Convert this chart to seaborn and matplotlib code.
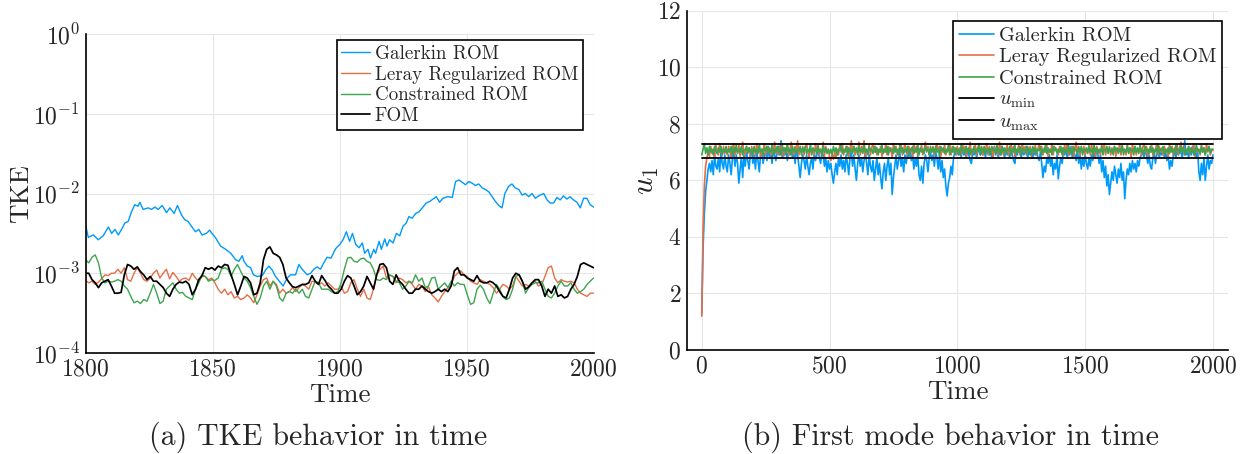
import numpy as np
import matplotlib
matplotlib.use("Agg")
import matplotlib.pyplot as plt
from matplotlib.ticker import NullLocator, FixedLocator
import seaborn as sns

# ---------------- data: panel (a) TKE, values stored as log10(TKE) ----------------
galerkin_tke_time = [
    1800.0, 1801.1, 1803.1, 1805.0, 1807.0, 1809.0, 1810.3, 1811.6, 1812.9, 1814.2,
    1815.5, 1816.8, 1818.1, 1819.4, 1820.7, 1821.4, 1822.7, 1824.7, 1826.0, 1827.3,
    1828.6, 1830.2, 1831.9, 1833.2, 1834.9, 1836.2, 1837.8, 1839.1, 1840.4, 1841.7,
    1843.3, 1844.6, 1845.9, 1847.6, 1848.9,
    1849.3, 1851.3, 1853.2, 1855.2, 1857.2, 1859.1, 1860.4, 1861.7, 1862.4, 1863.7,
    1865.0, 1866.1, 1867.6, 1869.6, 1870.9, 1872.2, 1873.5, 1874.8, 1876.8, 1877.8,
    1879.4, 1880.7, 1882.7, 1884.0, 1885.3, 1887.3, 1888.6, 1889.9, 1891.2, 1892.5,
    1893.8, 1895.1, 1896.7, 1898.0,
    1898.8, 1900.1, 1901.4, 1902.7, 1904.0, 1905.1, 1906.4, 1907.7, 1909.0, 1909.9,
    1911.2, 1912.2, 1913.5, 1914.2, 1915.6, 1916.5, 1917.8, 1918.7, 1919.7, 1921.1,
    1922.4, 1923.7, 1925.0, 1926.3, 1927.3, 1928.6, 1930.0, 1931.3, 1932.6, 1934.1,
    1935.5, 1936.8, 1938.1, 1939.4, 1940.7, 1942.6, 1944.4, 1945.7, 1947.0,
    1948.3, 1949.6, 1950.9, 1952.2, 1953.5, 1954.8, 1956.2, 1957.5, 1958.8, 1960.1,
    1961.4, 1962.7, 1964.0, 1965.1, 1966.6, 1967.9, 1969.2, 1970.6, 1971.9, 1973.2,
    1974.5, 1975.8, 1977.1, 1978.4, 1980.4, 1981.7, 1983.0, 1984.3, 1985.6, 1986.9,
    1988.2, 1989.5, 1990.8, 1992.1, 1993.5, 1994.8, 1996.1, 1997.4, 1998.7, 2000.0,
]
galerkin_log10_tke = [
    -2.39, -2.55, -2.52, -2.58, -2.53, -2.42, -2.50, -2.45, -2.52, -2.45,
    -2.37, -2.35, -2.23, -2.14, -2.16, -2.11, -2.20, -2.18, -2.20, -2.17,
    -2.20, -2.15, -2.24, -2.18, -2.25, -2.15, -2.27, -2.33, -2.35, -2.41,
    -2.48, -2.45, -2.52, -2.50, -2.46,
    -2.48, -2.56, -2.66, -2.70, -2.75, -2.83, -2.85, -2.78, -2.85, -2.91,
    -2.93, -3.02, -3.04, -3.03, -2.96, -2.91, -2.96, -3.04, -3.12, -3.16,
    -3.06, -3.02, -3.02, -2.89, -2.95, -3.02, -3.00, -2.95, -2.92, -2.95,
    -2.87, -2.80, -2.81, -2.72,
    -2.68, -2.64, -2.58, -2.48, -2.60, -2.50, -2.64, -2.68, -2.62, -2.75,
    -2.70, -2.81, -2.70, -2.75, -2.60, -2.70, -2.57, -2.66, -2.58, -2.62,
    -2.50, -2.53, -2.41, -2.37, -2.29, -2.31, -2.25, -2.23, -2.18, -2.12,
    -2.10, -2.07, -2.04, -2.11, -2.06, -2.04, -2.05, -1.85, -1.83,
    -1.86, -1.89, -1.85, -1.87, -1.90, -1.88, -1.93, -1.95, -1.98, -2.04,
    -2.10, -2.15, -2.18, -2.00, -1.91, -1.88, -1.93, -1.95, -2.02, -2.00,
    -2.04, -2.00, -2.06, -2.03, -2.00, -2.08, -2.12, -2.12, -2.05, -2.08,
    -2.03, -2.07, -2.04, -2.08, -2.11, -2.18, -2.06, -2.06, -2.14, -2.17,
]
# the other three series are sampled on a common uniform time grid 1800..2000 (158 samples)
tke_time_start, tke_time_end, tke_samples = 1800, 2000, 158
leray_log10_tke = [
    -3.09, -3.12, -3.10, -3.14, -3.11, -3.07, -3.02, -3.03, -3.00, -3.00,
    -2.95, -3.00, -2.93, -3.08, -3.10, -3.00, -2.93, -3.00, -3.08, -3.10,
    -3.06, -3.00, -2.96, -3.06, -3.00, -2.95, -3.07, -2.99, -3.04, -3.10,
    -3.07, -3.06, -3.09, -3.00, -3.06, -3.10, -3.04, -3.04, -3.08,
    -3.06, -3.12, -3.20, -3.25, -3.20, -3.27, -3.23, -3.31, -3.29, -3.33,
    -3.31, -3.27, -3.31, -3.37, -3.27, -3.16, -3.08, -3.06, -3.16, -3.10,
    -3.14, -3.25, -3.20, -3.25, -3.23, -3.18, -3.23, -3.18, -3.14, -3.16,
    -3.20, -3.10, -3.11, -3.14, -3.12, -3.16, -3.12, -3.16, -3.20,
    -3.20, -3.16, -3.25, -3.23, -3.12, -3.08, -3.20, -3.29, -3.20, -3.31,
    -3.33, -3.20, -3.02, -2.95, -2.91, -3.06, -3.02, -3.04, -3.12, -3.06,
    -3.08, -3.12, -3.10, -3.14, -3.20, -3.14, -3.16, -3.23, -3.17, -3.27,
    -3.31, -3.36, -3.29, -3.23, -3.18, -3.14, -3.04, -3.00, -2.97,
    -3.02, -3.04, -3.10, -3.12, -3.14, -3.08, -3.10, -3.12, -3.14, -3.18,
    -3.25, -3.20, -3.14, -3.16, -3.20, -3.16, -3.04, -3.10, -3.16, -3.14,
    -3.16, -3.12, -3.10, -3.16, -3.14, -3.04, -2.93, -2.91, -3.06, -3.12,
    -3.08, -3.10, -3.11, -3.10, -3.12, -3.20, -3.25, -3.27, -3.29, -3.25, -3.25,
]
constrained_log10_tke = [
    -2.83, -2.87, -2.80, -2.77, -2.87, -3.06, -3.12, -3.10, -3.11, -3.10,
    -3.08, -3.10, -3.16, -3.20, -3.29, -3.37, -3.35, -3.38, -3.33, -3.35,
    -3.25, -3.14, -3.25, -3.38, -3.35, -3.20, -3.16, -3.12, -3.20, -3.25,
    -3.24, -3.29, -3.31, -3.33, -3.20, -3.12, -3.02, -3.04, -3.10,
    -3.08, -3.09, -3.06, -2.95, -2.93, -2.95, -3.04, -2.95, -2.89, -2.98,
    -3.06, -3.10, -3.18, -3.29, -3.39, -3.31, -3.16, -3.10, -3.20, -3.10,
    -3.16, -3.31, -3.35, -3.25, -3.23, -3.25, -3.20, -3.25, -3.20, -3.29,
    -3.31, -3.20, -3.10, -3.12, -3.20, -3.20, -3.20, -3.23, -3.25,
    -3.23, -3.12, -2.95, -2.81, -2.80, -2.85, -2.86, -2.82, -2.81, -2.85,
    -2.87, -2.95, -3.08, -3.09, -3.06, -3.08, -3.02, -3.04, -3.10, -3.12,
    -3.20, -3.16, -3.10, -3.12, -3.02, -3.10, -3.06, -3.18, -3.16, -3.06,
    -3.05, -3.20, -3.16, -3.12, -3.18, -3.10, -3.16, -3.12, -3.14,
    -3.14, -3.27, -3.39, -3.37, -3.20, -3.15, -3.20, -3.31, -3.38, -3.25,
    -3.14, -3.20, -3.29, -3.33, -3.31, -3.20, -3.04, -3.02, -3.10, -3.25,
    -3.18, -3.14, -3.12, -3.12, -3.10, -3.20, -3.29, -3.31, -3.25, -3.16,
    -3.10, -3.16, -3.16, -3.12, -3.20, -3.25, -3.23, -3.20, -3.14, -3.10, -3.06,
]
fom_log10_tke = [
    -3.00, -3.00, -3.08, -3.12, -3.18, -3.12, -3.10, -3.08, -3.16, -3.25,
    -3.25, -3.24, -3.02, -2.89, -2.91, -2.95, -2.92, -2.98, -3.02, -3.08,
    -3.04, -3.10, -3.10, -3.14, -3.18, -3.25, -3.29, -3.20, -3.14, -3.11,
    -3.12, -3.10, -3.14, -3.27, -3.20, -3.08, -3.03, -2.93, -2.95,
    -2.93, -2.96, -2.91, -2.93, -2.89, -2.90, -3.02, -3.14, -3.27, -3.16,
    -3.04, -3.06, -3.12, -3.27, -3.25, -3.12, -2.83, -2.70, -2.67, -2.75,
    -2.77, -2.80, -2.89, -3.06, -3.12, -3.17, -3.18, -3.16, -3.14, -3.14,
    -3.12, -3.03, -3.10, -3.14, -3.03, -3.09, -3.16, -3.20, -3.25,
    -3.25, -3.20, -3.10, -3.03, -3.06, -3.16, -3.27, -3.23, -3.16, -3.04,
    -3.12, -3.20, -3.02, -2.89, -2.88, -2.93, -3.10, -3.14, -3.02, -3.10,
    -3.14, -3.20, -3.25, -3.25, -3.20, -3.20, -3.16, -3.20, -3.23, -3.25,
    -3.23, -3.20, -3.23, -3.20, -3.23, -3.16, -2.97, -2.93, -3.02,
    -3.02, -3.06, -3.08, -3.10, -3.03, -3.10, -3.12, -3.12, -3.10, -3.12,
    -3.16, -3.23, -3.29, -3.31, -3.20, -3.06, -3.00, -3.02, -3.10, -3.20,
    -3.17, -3.12, -3.08, -3.08, -3.16, -3.29, -3.20, -3.25, -3.16, -3.29,
    -3.27, -3.31, -3.29, -3.20, -3.14, -3.04, -2.89, -2.87, -2.89, -2.91, -2.93,
]

# ---------------- data: panel (b) first mode u1, sampled every 5 time units ----------------
u1_time_start, u1_time_end, u1_time_step = 0, 2000, 5
galerkin_u1 = [
    1.3, 3.6, 4.8, 5.6, 6.0, 6.4, 6.6, 6.3, 6.7, 6.2, 6.9, 6.5, 6.4, 6.8, 6.3, 7.0, 6.6, 6.4, 6.9, 6.5,
    6.3, 6.9, 6.6, 6.2, 6.8, 7.0, 6.5, 6.9, 6.6, 5.9, 6.4, 6.8, 6.1, 6.9, 6.5, 7.0, 6.7, 6.4, 6.9, 7.1,
    6.6, 6.9, 6.4, 7.0, 6.7, 6.3, 6.9, 7.1, 6.6, 6.9, 7.0, 6.7, 7.2, 6.8, 7.0, 6.6, 7.1, 6.9, 6.7, 7.0,
    7.2, 6.9, 7.4, 6.8, 7.1, 6.9, 7.0, 6.7, 7.1, 6.9, 7.2, 6.8, 7.0, 6.6, 7.1, 6.9, 6.5, 6.1, 6.6, 6.9,
    6.7, 6.4, 6.9, 6.5, 6.2, 6.6, 6.8, 6.4, 7.0, 6.7, 6.9, 7.1, 6.8, 6.6, 7.0, 6.9, 6.5, 6.8, 6.3, 6.7,
    6.4, 6.6, 6.2, 5.9, 6.3, 6.6, 6.2, 6.8, 6.5, 6.9, 6.4, 6.7, 6.3, 6.9, 6.6, 6.2, 6.8, 7.0, 6.5, 6.9,
    6.4, 6.0, 6.6, 6.9, 6.5, 6.8, 6.3, 6.7, 7.0, 6.6, 6.2, 6.9, 6.5, 6.3, 6.7, 6.0, 6.4, 6.8, 6.2, 6.6,
    6.1, 5.7, 6.3, 6.6, 6.0, 6.5, 6.8, 6.2, 6.6, 5.5, 6.1, 6.5, 6.9, 6.4, 6.7, 7.0, 6.5, 6.8, 6.3, 6.9,
    6.6, 7.0, 6.8, 7.1, 6.7, 6.9, 6.4, 6.8, 6.5, 6.9, 6.2, 6.0, 6.5, 5.9, 6.6, 6.9, 6.7, 6.3, 6.8, 7.0,
    6.7, 6.9, 6.5, 7.0, 6.8, 6.4, 6.9, 6.3, 6.7, 6.1, 6.4, 5.8, 5.45, 5.9, 6.1, 6.5, 6.2, 6.8, 7.0, 6.9,
    7.0, 6.9, 7.1, 6.8, 7.2, 6.9, 7.0, 6.8, 7.1, 6.9, 6.7, 6.6, 7.0, 6.9, 7.2, 6.8, 7.0, 7.1, 6.9, 7.0,
    6.9, 7.1, 6.8, 7.2, 7.0, 6.9, 7.1, 6.8, 7.0, 7.2, 6.9, 7.1, 6.8, 7.0, 6.9, 7.2, 7.0, 6.8, 7.1, 6.9,
    7.0, 6.8, 7.1, 6.9, 6.7, 6.6, 7.0, 6.9, 7.2, 7.0, 6.8, 7.1, 6.9, 7.0, 7.2, 6.8, 7.0, 6.9, 7.1, 6.8,
    7.0, 6.9, 7.1, 6.8, 6.7, 7.0, 6.6, 6.1, 6.5, 6.3, 6.8, 6.6, 6.9, 6.5, 6.8, 6.2, 6.6, 6.4, 6.9, 6.05,
    6.5, 6.8, 6.6, 7.0, 6.9, 7.1, 6.8, 7.0, 6.9, 7.2, 6.8, 7.0, 6.9, 6.7, 7.1, 6.6, 6.9, 6.4, 6.8, 6.5,
    6.9, 6.6, 6.4, 6.8, 6.5, 6.9, 6.7, 7.0, 6.8, 7.1, 6.9, 6.6, 6.9, 6.3, 6.7, 6.1, 6.5, 5.8, 6.2, 5.5,
    5.9, 6.3, 6.0, 6.5, 6.2, 5.9, 6.4, 6.1, 6.6, 6.0, 6.3, 5.35, 6.0, 6.4, 6.2, 6.6, 6.3, 6.7, 6.4, 6.6,
    6.3, 6.7, 6.5, 6.8, 6.9, 7.0, 6.8, 7.1, 6.9, 6.6, 6.9, 6.5, 6.4, 6.8, 7.0, 6.6, 6.9, 7.1, 6.8, 7.0,
    6.9, 7.1, 6.8, 7.0, 6.7, 6.9, 6.4, 6.7, 6.5, 6.9, 7.0, 6.8, 7.1, 6.9, 7.2, 7.0, 6.8, 7.1, 7.4, 6.9,
    7.0, 6.8, 7.1, 6.9, 7.2, 6.9, 7.0, 6.8, 7.1, 6.3, 6.0, 6.6, 6.2, 6.8, 6.0, 6.5, 6.9, 6.4, 6.7, 6.6,
    6.9,
]
leray_u1 = [
    1.2, 4.3, 5.8, 6.5, 6.8, 7.0, 6.85, 7.2, 6.95, 7.1, 6.8, 7.25, 7.0, 6.9, 7.3, 7.05, 6.9, 7.2, 6.95, 7.1,
    6.9, 7.2, 7.05, 6.8, 7.15, 7.3, 6.9, 7.1, 7.0, 7.25, 6.85, 7.1, 7.35, 7.0, 6.9, 7.2, 7.05, 7.15, 6.9, 7.2,
    7.0, 7.15, 6.9, 7.3, 7.0, 7.2, 6.85, 7.1, 7.05, 7.3, 6.9, 7.2, 7.0, 7.15, 6.9, 7.25, 7.0, 7.35, 6.95, 7.1,
    6.9, 7.2, 7.0, 7.3, 6.85, 7.15, 7.0, 7.25, 6.9, 7.1, 7.35, 7.0, 6.9, 7.2, 7.05, 7.4, 6.9, 7.1, 7.0, 7.2,
    6.9, 7.15, 7.3, 7.0, 6.8, 7.2, 7.0, 7.1, 6.9, 7.3, 7.0, 7.25, 6.9, 7.1, 7.0, 7.35, 6.85, 7.2, 7.0, 7.1,
    6.8, 6.7, 6.9, 6.75, 7.0, 6.8, 7.1, 6.9, 7.25, 7.0, 7.3, 6.9, 7.1, 7.0, 7.2, 6.85, 7.1, 7.4, 7.0, 7.2,
    6.9, 7.1, 7.0, 7.35, 6.9, 7.2, 7.0, 7.4, 6.85, 7.1, 7.0, 7.25, 6.9, 7.15, 7.3, 7.0, 7.2, 6.9, 7.1, 7.0,
    7.2, 6.85, 7.1, 7.0, 7.3, 6.9, 7.2, 7.0, 7.15, 6.8, 7.3, 7.0, 7.2, 6.9, 7.1, 7.05, 7.25, 6.9, 7.1, 7.3,
    7.0, 6.9, 7.2, 7.0, 7.15, 6.85, 7.3, 7.0, 7.2, 6.9, 7.1, 7.05, 7.25, 6.9, 7.1, 7.35, 7.0, 7.2, 6.9, 7.1,
    7.0, 7.2, 6.9, 7.15, 7.3, 7.0, 7.2, 6.85, 7.1, 7.0, 7.25, 6.9, 7.1, 7.05, 7.3, 6.9, 7.2, 7.0, 7.15, 6.9,
    7.2, 7.0, 7.15, 6.9, 7.3, 7.0, 7.2, 6.85, 7.1, 7.05, 7.35, 6.9, 7.1, 7.0, 7.25, 6.9, 7.15, 7.3, 7.0, 7.2,
    6.9, 7.1, 7.05, 7.3, 6.9, 7.2, 7.0, 7.15, 6.8, 7.2, 7.0, 7.1, 6.9, 7.35, 7.0, 7.2, 6.9, 7.1, 7.05, 7.25,
    6.9, 7.1, 7.3, 7.0, 7.2, 6.85, 7.1, 7.0, 7.25, 6.9, 7.15, 7.3, 7.0, 7.2, 6.9, 7.1, 7.05, 7.2, 6.85, 7.1,
    7.0, 7.25, 6.9, 7.1, 7.3, 7.0, 7.2, 6.9, 7.15, 7.0, 7.25, 6.85, 7.1, 7.0, 7.3, 6.9, 7.2, 7.05, 7.1, 6.9,
    7.2, 7.0, 7.15, 6.9, 7.25, 7.0, 7.3, 6.9, 7.1, 7.0, 7.2, 6.85, 7.1, 7.35, 7.0, 7.2, 6.9, 7.15, 7.0, 7.2,
    6.9, 7.1, 7.0, 7.25, 6.9, 7.3, 7.0, 7.15, 6.85, 7.2, 7.0, 7.1, 6.9, 7.25, 7.05, 7.3, 6.9, 7.1, 7.0, 7.2,
    6.9, 7.15, 7.0, 7.2, 6.85, 7.1, 7.0, 7.3, 6.9, 7.2, 7.05, 7.1, 6.9, 7.25, 7.0, 7.15, 6.8, 7.3, 7.0, 7.2,
    6.9, 7.1, 7.0, 7.25, 6.9, 7.15, 7.3, 7.0, 7.2, 6.85, 7.1, 7.0, 7.25, 6.9, 7.1, 7.05, 7.3, 6.9, 7.2, 7.0,
    7.15, 6.9, 7.2, 7.0, 7.1, 6.85, 7.3, 7.0, 7.2, 6.9, 7.15, 7.0, 7.25, 6.9, 7.1, 7.35, 7.0, 7.2, 6.9, 7.1,
    7.0, 7.2, 6.9, 7.15, 7.0, 7.3, 6.85, 7.2, 7.0, 7.1, 6.9, 7.25, 7.0, 7.15, 6.9, 7.3, 7.0, 7.2, 6.9, 7.1,
    7.05,
]
constrained_u1 = [
    6.9, 7.1, 7.3, 6.95, 7.15, 6.9, 7.2, 7.0, 7.1, 6.9, 7.2, 7.05, 6.95, 7.15, 7.0, 7.2, 6.9, 7.1, 7.0, 7.2,
    6.95, 7.1, 7.0, 7.2, 6.9, 7.15, 7.0, 7.25, 6.95, 7.1, 7.0, 7.2, 6.9, 7.1, 7.05, 7.2, 6.95, 7.15, 7.0, 7.1,
    6.9, 7.2, 7.0, 7.1, 6.95, 7.25, 7.0, 7.1, 6.9, 7.15, 7.05, 7.2, 6.95, 7.1, 7.0, 7.25, 6.9, 7.1, 7.0, 7.2,
    7.0, 7.1, 6.9, 7.2, 7.05, 7.15, 6.95, 7.25, 7.0, 7.1, 6.9, 7.2, 7.0, 7.15, 6.95, 7.1, 7.05, 7.2, 6.9, 7.15,
    7.0, 7.2, 6.95, 7.1, 7.0, 7.25, 6.9, 7.15, 7.05, 7.1, 6.95, 7.2, 7.0, 7.1, 6.9, 7.2, 7.0, 7.15, 6.95, 7.1,
    6.95, 7.1, 6.9, 7.2, 7.0, 7.15, 6.9, 7.1, 7.05, 7.25, 6.95, 7.1, 7.0, 7.2, 6.9, 7.15, 7.0, 7.1, 6.95, 7.2,
    7.05, 7.15, 6.9, 7.2, 7.0, 7.1, 6.95, 7.25, 7.0, 7.1, 6.9, 7.2, 7.05, 7.1, 6.95, 7.2, 7.0, 7.15, 6.9, 7.1,
    7.0, 7.25, 6.95, 7.1, 7.0, 7.2, 6.9, 7.15, 7.05, 7.1, 6.95, 7.2, 7.0, 7.1, 6.9, 7.25, 7.0, 7.15, 6.95, 7.1,
    7.0, 7.2, 6.9, 7.1, 7.05, 7.2, 6.95, 7.1, 7.0, 7.25, 6.9, 7.15, 7.0, 7.1, 6.95, 7.2, 7.05, 7.1, 6.9, 7.2,
    7.0, 7.15, 6.95, 7.2, 7.0, 7.1, 6.9, 7.2, 7.05, 7.15, 6.95, 7.1, 7.0, 7.25, 6.9, 7.1, 7.0, 7.2, 6.95, 7.15,
    7.0, 7.1, 6.9, 7.25, 7.05, 7.1, 6.95, 7.2, 7.0, 7.15, 6.9, 7.1, 7.0, 7.2, 6.95, 7.1, 7.05, 7.25, 6.9, 7.15,
    7.0, 7.2, 6.95, 7.1, 7.0, 7.15, 6.9, 7.2, 7.05, 7.1, 6.95, 7.25, 7.0, 7.1, 6.9, 7.2, 7.0, 7.15, 6.95, 7.1,
    7.05, 7.2, 6.9, 7.1, 7.0, 7.25, 6.95, 7.1, 7.0, 7.2, 6.9, 7.15, 7.05, 7.1, 6.95, 7.2, 7.0, 7.1, 6.9, 7.2,
    7.0, 7.15, 6.95, 7.1, 7.05, 7.2, 6.9, 7.1, 7.0, 7.25, 6.95, 7.15, 7.0, 7.1, 6.9, 7.2, 7.05, 7.15, 6.95, 7.1,
    7.0, 7.2, 6.9, 7.15, 7.0, 7.1, 6.95, 7.25, 7.0, 7.1, 6.9, 7.2, 7.05, 7.1, 6.95, 7.15, 7.0, 7.2, 6.9, 7.1,
    7.05, 7.15, 6.95, 7.2, 7.0, 7.1, 6.9, 7.25, 7.0, 7.15, 6.95, 7.1, 7.0, 7.2, 6.9, 7.1, 7.05, 7.2, 6.95, 7.15,
    7.0, 7.1, 6.9, 7.2, 7.05, 7.15, 6.95, 7.1, 7.0, 7.25, 6.9, 7.1, 7.0, 7.2, 6.95, 7.15, 7.05, 7.1, 6.9, 7.2,
    7.0, 7.15, 6.95, 7.25, 7.0, 7.1, 6.9, 7.2, 7.05, 7.1, 6.95, 7.2, 7.0, 7.15, 6.9, 7.1, 7.0, 7.25, 6.95, 7.1,
    7.05, 7.2, 6.9, 7.1, 7.0, 7.15, 6.95, 7.2, 7.0, 7.1, 6.9, 7.25, 7.05, 7.1, 6.95, 7.2, 7.0, 7.15, 6.9, 7.1,
    7.0, 7.2, 6.95, 7.15, 7.0, 7.1, 6.9, 7.25, 7.05, 7.1, 6.95, 7.2, 7.0, 7.15, 6.9, 7.1, 7.05, 7.2, 6.95, 7.1,
    7.1,
]
u_min_value = 6.8
u_max_value = 7.3

labels_a = ["Galerkin ROM", "Leray Regularized ROM", "Constrained ROM", "FOM"]
labels_b = ["Galerkin ROM", "Leray Regularized ROM", "Constrained ROM", r"$u_{\rm min}$", r"$u_{\rm max}$"]
xticks_a = [1800, 1850, 1900, 1950, 2000]
yticks_a = [1e-4, 1e-3, 1e-2, 1e-1, 1e0]
xticks_b = [0, 500, 1000, 1500, 2000]
yticks_b = [0, 2, 4, 6, 8, 10, 12]
captions = ["(a) TKE behavior in time", "(b) First mode behavior in time"]

colors = ["#009AFA", "#E36F47", "#3EA44E", "black"]

# ---------------- style ----------------
sns.set_theme(style="whitegrid")
plt.rcParams.update({
    "font.family": ["cmr10", "DejaVu Serif"],
    "mathtext.fontset": "cm",
    "axes.unicode_minus": False,
    "axes.formatter.use_mathtext": True,
    "axes.edgecolor": "black",
    "grid.color": "#e6e6e6",
    "grid.linewidth": 0.8,
    "axes.facecolor": "white",
})

fig = plt.figure(figsize=(12.46, 4.54), dpi=100)
W, H = 1246, 454
ax1 = fig.add_axes([85.5 / W, 1 - 353 / H, (593.5 - 85.5) / W, (353 - 34) / H])
ax2 = fig.add_axes([686.7 / W, 1 - 350 / H, (1228 - 686.7) / W, (350 - 10.7) / H])

# ---- panel (a)
tke_time = np.linspace(tke_time_start, tke_time_end, tke_samples)
series_a = [
    (np.array(galerkin_tke_time), 10 ** np.array(galerkin_log10_tke)),
    (tke_time, 10 ** np.array(leray_log10_tke)),
    (tke_time, 10 ** np.array(constrained_log10_tke)),
    (tke_time, 10 ** np.array(fom_log10_tke)),
]
for (x, y), c, lab in zip(series_a, colors, labels_a):
    lw = 1.25 if c == "black" else 1.0
    sns.lineplot(x=x, y=y, ax=ax1, color=c, linewidth=lw, label=lab, sort=False)
ax1.set_yscale("log")
ax1.set_xlim(1800, 2000)
ax1.set_ylim(1e-4, 1e0)
ax1.xaxis.set_major_locator(FixedLocator(xticks_a))
ax1.yaxis.set_major_locator(FixedLocator(yticks_a))
ax1.yaxis.set_minor_locator(NullLocator())
ax1.set_xlabel("Time", fontsize=19.5, labelpad=2)
ax1.set_ylabel("TKE", fontsize=19.5)
ax1.yaxis.set_label_coords(-0.103, 0.5)

# ---- panel (b)
u1_time = np.arange(u1_time_start, u1_time_end + 1, u1_time_step)
for yv, c, lab in zip([galerkin_u1, leray_u1, constrained_u1], colors[:3], labels_b[:3]):
    sns.lineplot(x=u1_time, y=yv, ax=ax2, color=c, linewidth=1.2, label=lab, sort=False)
for val, lab in zip([u_min_value, u_max_value], labels_b[3:]):
    sns.lineplot(x=[u1_time_start, u1_time_end], y=[val, val], ax=ax2, color="black",
                 linewidth=1.3, label=lab)
ax2.set_xlim(-59, 2059)
ax2.set_ylim(0, 12)
ax2.xaxis.set_major_locator(FixedLocator(xticks_b))
ax2.yaxis.set_major_locator(FixedLocator(yticks_b))
ax2.set_xlabel("Time", fontsize=19.5, labelpad=2)
ax2.set_ylabel(r"$u_1$", fontsize=22)
ax2.yaxis.set_label_coords(-0.047, 0.5)

for ax in (ax1, ax2):
    ax.grid(True, which="major", color="#e6e6e6", linewidth=0.8)
    for s in ("top", "right"):
        ax.spines[s].set_visible(False)
    for s in ("left", "bottom"):
        ax.spines[s].set_color("black")
        ax.spines[s].set_linewidth(1.2)
    ax.tick_params(axis="both", which="major", labelsize=17, direction="in", length=3,
                   width=0.8, color="#888888", pad=4)

leg_kw = dict(loc="upper right", frameon=True, fancybox=False, shadow=False,
              handletextpad=0.25, labelspacing=0.15, borderaxespad=0.0)
leg1 = ax1.legend(bbox_to_anchor=(0.979, 0.981), fontsize=13.7, handlelength=1.5,
                  borderpad=0.25, **leg_kw)
leg2 = ax2.legend(bbox_to_anchor=(0.989, 0.970), fontsize=14.6, handlelength=1.7,
                  borderpad=0.3, **leg_kw)
for leg in (leg1, leg2):
    leg.get_frame().set_edgecolor("black")
    leg.get_frame().set_linewidth(1.2)
    leg.get_frame().set_alpha(1)

fig.text(318 / W, 1 - 437 / H, captions[0], ha="center", va="center", fontsize=21.5)
fig.text(950 / W, 1 - 437 / H, captions[1], ha="center", va="center", fontsize=21.5)

fig.savefig("out.png", dpi=100)
